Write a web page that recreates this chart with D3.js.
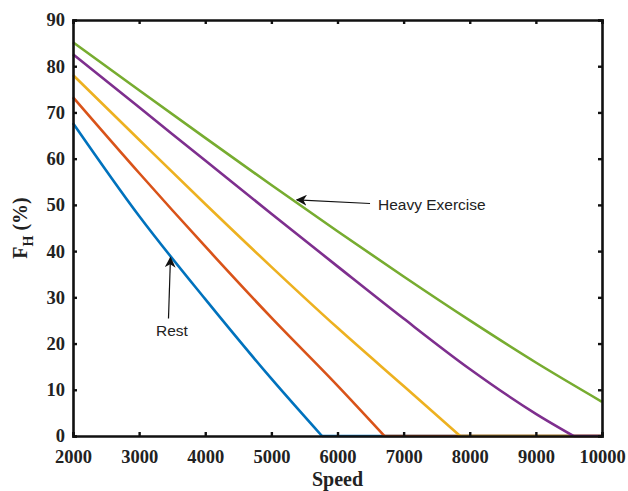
<!DOCTYPE html>
<html>
<head>
<meta charset="utf-8">
<script src="https://cdn.jsdelivr.net/npm/d3@7"></script>
<style>
  body { margin: 0; background: #fff; }
  .tick text { font-family: "Liberation Serif", "Times New Roman", serif; font-weight: bold; font-size: 18.5px; fill: #222; }
  .note { font-family: "Liberation Sans", Arial, sans-serif; font-size: 15.5px; fill: #222; }
</style>
</head>
<body>
<div id="chart"></div>
<script>
// speed grid (x) and F_H values (%)
var speed = [2000, 3000, 4000, 5000, 6000, 7000, 8000, 9000, 10000];
var rest     = [67.7, 47.6, 29.6, 12.4];
var level2   = [73.3, 56.9, 41.0, 25.6, 10.9];
var level3   = [78.1, 64.1, 50.2, 36.6, 23.4, 10.8];
var level4   = [82.6, 71.1, 59.6, 48.1, 36.7, 25.4, 14.5, 4.8];
var heavy    = [85.2, 74.8, 64.5, 54.3, 44.3, 34.5, 25.0, 15.9, 7.4];
// speed where each curve reaches 0 (null = never)
var zeroAt   = [5765, 6710, 7855, 9570, null];
var colors   = ["#0072BD", "#D95319", "#EDB120", "#7E2F8E", "#77AC30"];
var xTicks = [2000, 3000, 4000, 5000, 6000, 7000, 8000, 9000, 10000];
var yTicks = [0, 10, 20, 30, 40, 50, 60, 70, 80, 90];

var series = [rest, level2, level3, level4, heavy];

var margin = {top: 20, right: 26, bottom: 55, left: 73},
    width = 628 - margin.left - margin.right,
    height = 491 - margin.top - margin.bottom;

var svg = d3.select("#chart").append("svg")
    .attr("width", 628)
    .attr("height", 491)
  .append("g")
    .attr("transform", "translate(" + margin.left + "," + margin.top + ")");

var x = d3.scaleLinear().domain([2000, 10000]).range([0, width]);
var y = d3.scaleLinear().domain([0, 90]).range([height, 0]);

// curves
var line = d3.line()
    .x(function(d) { return x(d[0]); })
    .y(function(d) { return y(d[1]); })
    .curve(d3.curveMonotoneX);
var flat = d3.line()
    .x(function(d) { return x(d[0]); })
    .y(function(d) { return y(d[1]); });

series.forEach(function(vals, i) {
    var pts = vals.map(function(v, j) { return [speed[j], v]; });
    var tail = [];
    if (zeroAt[i] != null) {
        pts.push([zeroAt[i], 0]);
        tail = [[zeroAt[i], 0], [10000, 0]];
    }
    svg.append("path")
        .attr("d", line(pts))
        .attr("fill", "none")
        .attr("stroke", colors[i])
        .attr("stroke-width", 2.6);
    if (tail.length) {
        svg.append("path")
            .attr("d", flat(tail))
            .attr("fill", "none")
            .attr("stroke", colors[i])
            .attr("stroke-width", 2.6);
    }
});

// axes (ticks pointing inward, mirrored on top/right)
var xAxis = svg.append("g")
    .attr("transform", "translate(0," + height + ")")
    .call(d3.axisBottom(x).tickValues(xTicks).tickSize(-4).tickPadding(18).tickFormat(d3.format("d")));
var yAxis = svg.append("g")
    .call(d3.axisLeft(y).tickValues(yTicks).tickSize(-4).tickPadding(8));
svg.append("g")
    .call(d3.axisTop(x).tickValues(xTicks).tickSize(-4).tickFormat(""));
svg.append("g")
    .attr("transform", "translate(" + width + ",0)")
    .call(d3.axisRight(y).tickValues(yTicks).tickSize(-4).tickFormat(""));

svg.selectAll(".domain").attr("stroke", "#111").attr("stroke-width", 2.6);
svg.selectAll(".tick line").attr("stroke", "#111").attr("stroke-width", 2.4);
xAxis.selectAll(".tick text").attr("dy", "0.5em");

// axis labels
svg.append("text")
    .attr("x", width / 2)
    .attr("y", height + 50)
    .style("text-anchor", "middle")
    .style("font-family", "'Liberation Serif', 'Times New Roman', serif")
    .style("font-weight", "bold")
    .style("font-size", "20px")
    .style("fill", "#222")
    .text("Speed");

var yl = svg.append("text")
    .attr("transform", "translate(" + (27 - margin.left) + "," + (height / 2) + ") rotate(-90)")
    .style("text-anchor", "middle")
    .style("font-family", "'Liberation Serif', 'Times New Roman', serif")
    .style("font-weight", "bold")
    .style("font-size", "20px")
    .style("fill", "#222");
yl.append("tspan").text("F");
yl.append("tspan").attr("dy", 6).style("font-size", "14px").text("H");
yl.append("tspan").attr("dy", -6).text(" (%)");

// annotations
svg.append("defs").append("marker")
    .attr("id", "head")
    .attr("viewBox", "0 0 10 10")
    .attr("refX", 9).attr("refY", 5)
    .attr("markerWidth", 11).attr("markerHeight", 11)
    .attr("markerUnits", "userSpaceOnUse")
    .attr("orient", "auto")
  .append("path")
    .attr("d", "M0,0 L10,5 L0,10 L3,5 Z")
    .attr("fill", "#111");

svg.append("line")
    .attr("x1", x(6492)).attr("y1", y(50.3))
    .attr("x2", x(5385)).attr("y2", y(51.1))
    .attr("stroke", "#111").attr("stroke-width", 1.2)
    .attr("marker-end", "url(#head)");
svg.append("text").attr("class", "note")
    .attr("x", x(6612)).attr("y", y(48.9))
    .text("Heavy Exercise");

svg.append("line")
    .attr("x1", x(3444)).attr("y1", y(25.4))
    .attr("x2", x(3474)).attr("y2", y(38.6))
    .attr("stroke", "#111").attr("stroke-width", 1.2)
    .attr("marker-end", "url(#head)");
svg.append("text").attr("class", "note")
    .attr("x", x(3497)).attr("y", y(21.6))
    .style("text-anchor", "middle")
    .text("Rest");
</script>
</body>
</html>
